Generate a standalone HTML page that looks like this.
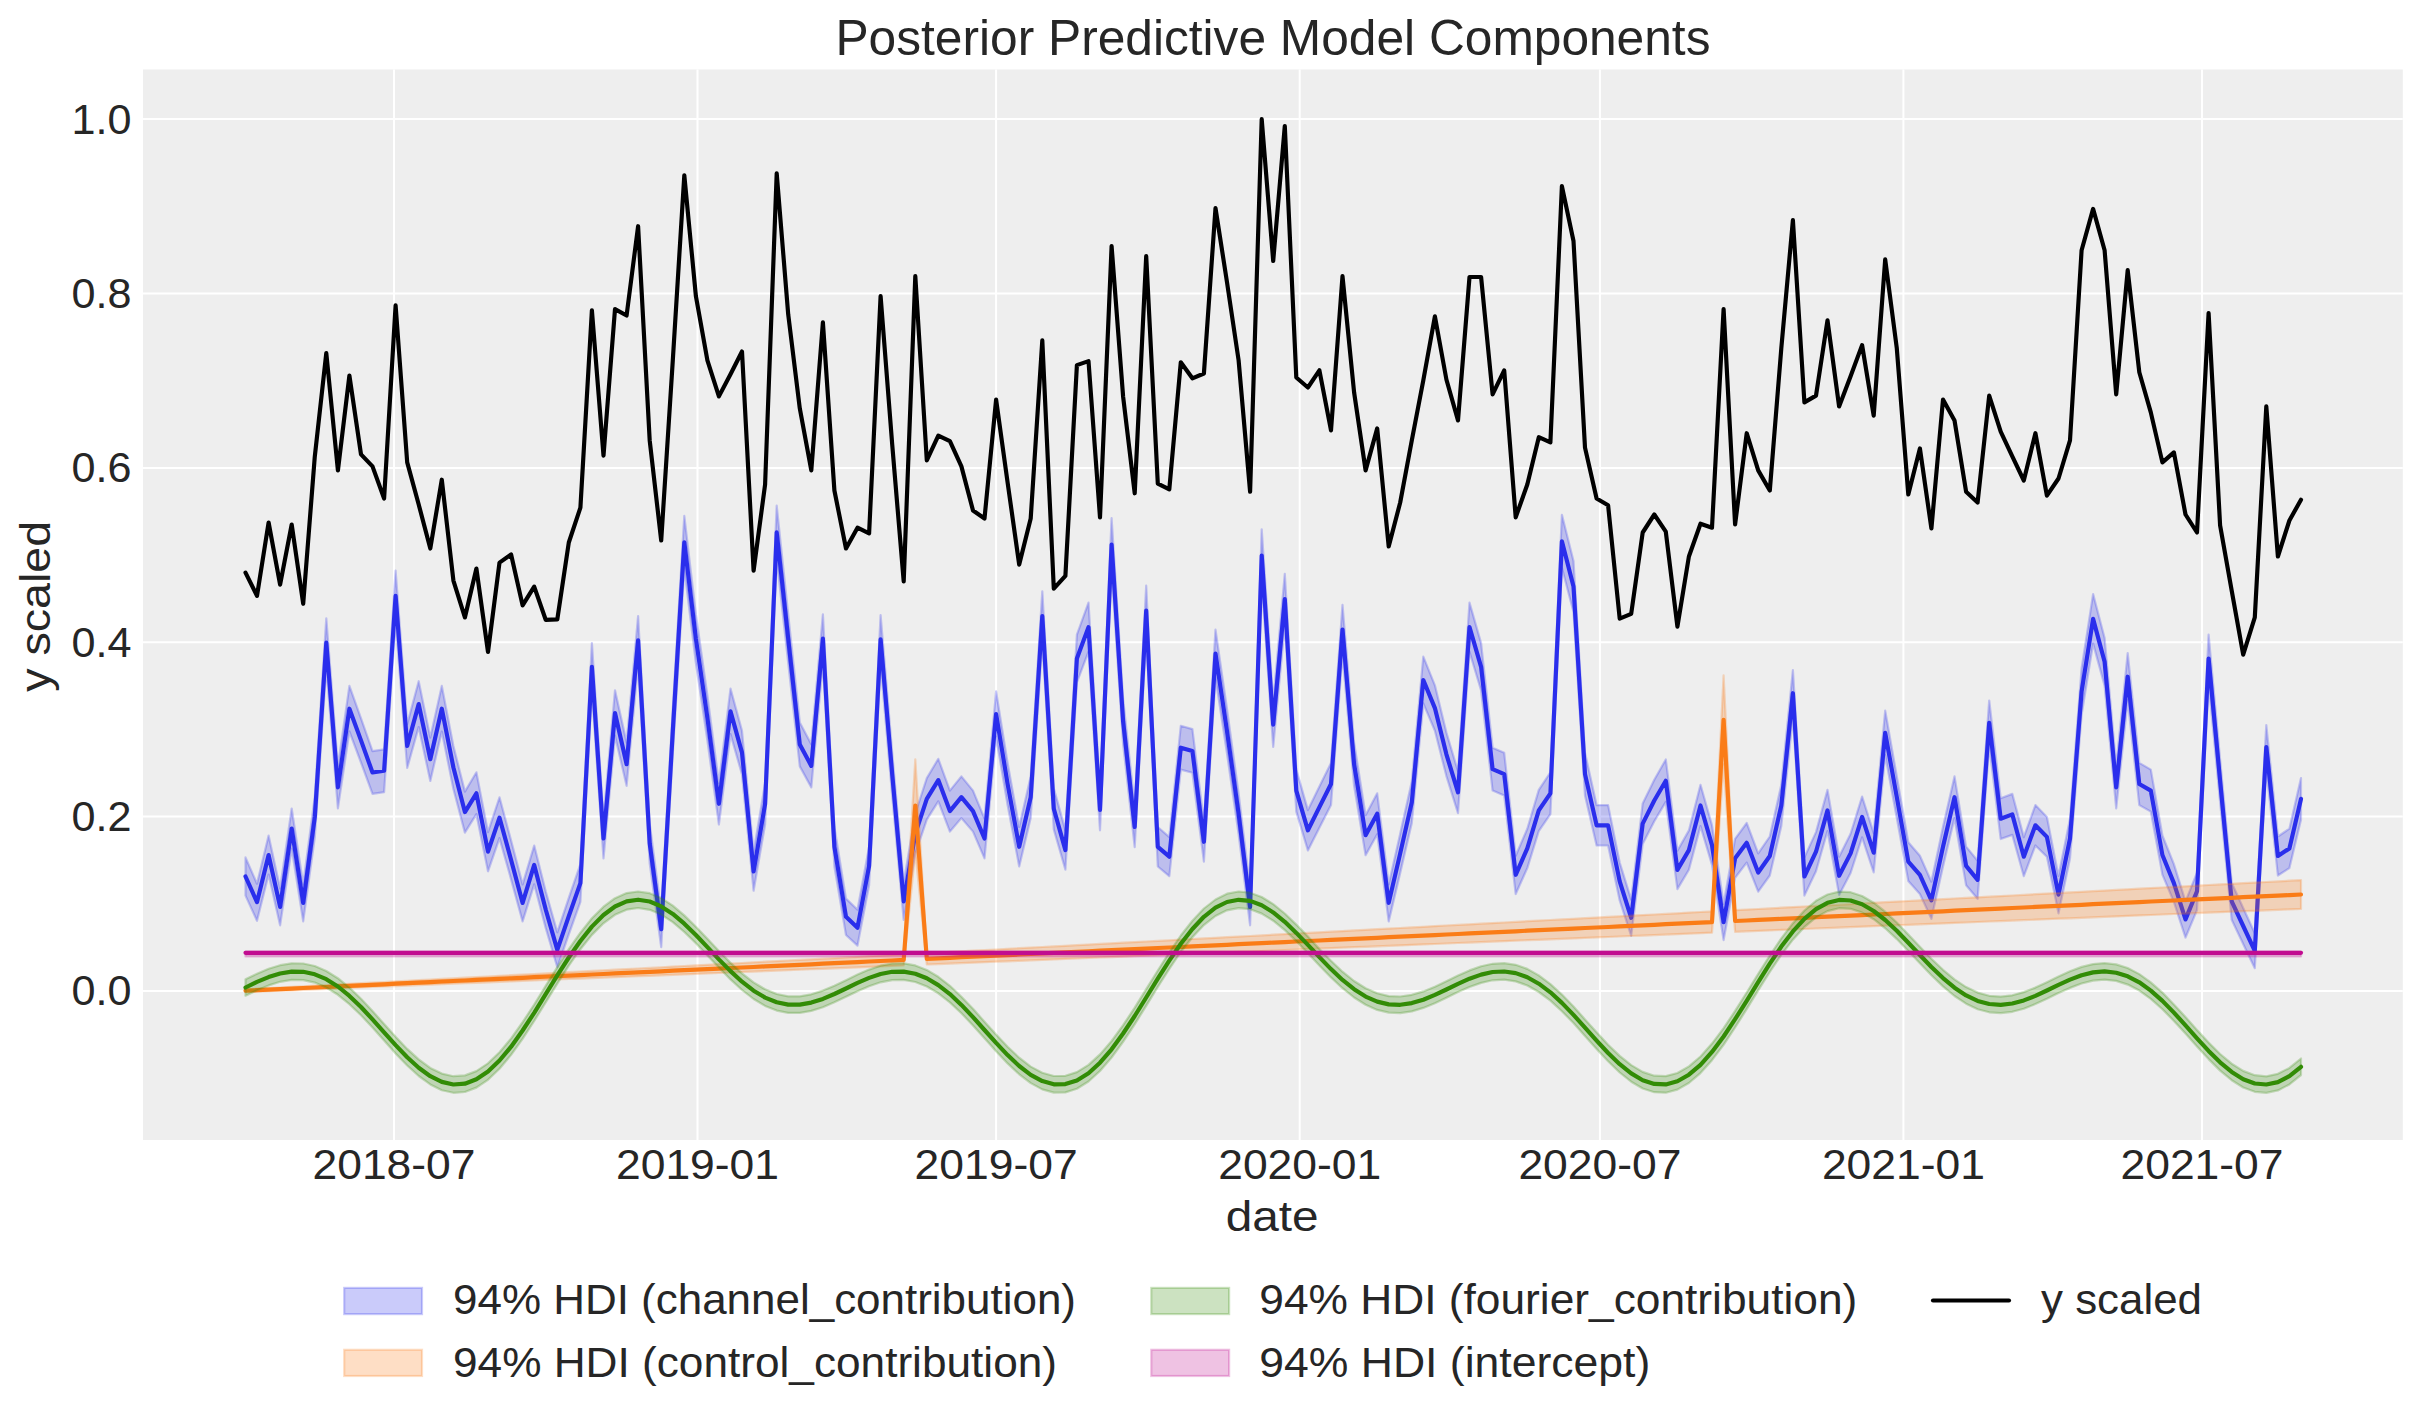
<!DOCTYPE html><html><head><meta charset="utf-8"><style>html,body{margin:0;padding:0;background:#fff;overflow:hidden}svg{display:block}</style></head><body>
<svg width="2423" height="1423" viewBox="0 0 2423 1423" style="font-family:&quot;Liberation Sans&quot;, sans-serif" fill="#262626">
<rect width="2423" height="1423" fill="#fff"/>
<rect x="143.0" y="69.5" width="2259.8" height="1070.5" fill="#eeeeee"/>
<defs><clipPath id="c"><rect x="143.0" y="69.5" width="2259.8" height="1070.5"/></clipPath></defs>
<line x1="394.0" y1="69.5" x2="394.0" y2="1140.0" stroke="#fff" stroke-width="2.0"/>
<line x1="697.5" y1="69.5" x2="697.5" y2="1140.0" stroke="#fff" stroke-width="2.0"/>
<line x1="996.1" y1="69.5" x2="996.1" y2="1140.0" stroke="#fff" stroke-width="2.0"/>
<line x1="1299.7" y1="69.5" x2="1299.7" y2="1140.0" stroke="#fff" stroke-width="2.0"/>
<line x1="1599.9" y1="69.5" x2="1599.9" y2="1140.0" stroke="#fff" stroke-width="2.0"/>
<line x1="1903.4" y1="69.5" x2="1903.4" y2="1140.0" stroke="#fff" stroke-width="2.0"/>
<line x1="2202.0" y1="69.5" x2="2202.0" y2="1140.0" stroke="#fff" stroke-width="2.0"/>
<line x1="143.0" y1="991.0" x2="2402.8" y2="991.0" stroke="#fff" stroke-width="2.0"/>
<line x1="143.0" y1="816.6" x2="2402.8" y2="816.6" stroke="#fff" stroke-width="2.0"/>
<line x1="143.0" y1="642.2" x2="2402.8" y2="642.2" stroke="#fff" stroke-width="2.0"/>
<line x1="143.0" y1="467.9" x2="2402.8" y2="467.9" stroke="#fff" stroke-width="2.0"/>
<line x1="143.0" y1="293.5" x2="2402.8" y2="293.5" stroke="#fff" stroke-width="2.0"/>
<line x1="143.0" y1="119.1" x2="2402.8" y2="119.1" stroke="#fff" stroke-width="2.0"/>
<g clip-path="url(#c)" stroke-linejoin="round" stroke-linecap="round" fill="none">
<polygon points="245.5,857.4 257.0,883.7 268.6,835.5 280.1,888.5 291.7,808.5 303.2,884.4 314.8,796.6 326.3,618.4 337.9,766.3 349.4,685.9 361.0,718.3 372.5,751.1 384.1,749.4 395.6,570.5 407.2,724.1 418.7,681.2 430.3,737.6 441.8,685.9 453.4,746.0 464.9,791.6 476.4,772.3 488.0,832.1 499.5,797.3 511.1,840.5 522.6,884.4 534.2,845.6 545.7,891.2 557.3,932.3 568.8,897.9 580.4,864.2 591.9,643.1 603.5,818.6 615.0,690.3 626.6,742.6 638.1,616.1 649.7,823.6 661.2,911.4 672.8,708.9 684.3,515.8 695.9,614.4 707.4,695.4 718.9,783.1 730.5,688.6 742.0,730.8 753.6,852.3 765.1,783.1 776.7,505.7 788.2,614.4 799.8,722.4 811.3,744.3 822.9,614.4 834.4,827.0 846.0,898.6 857.5,909.7 869.1,846.6 880.6,615.1 892.2,752.8 903.7,882.7 915.3,813.5 926.8,778.1 938.3,758.8 949.9,790.6 961.4,776.4 973.0,790.6 984.5,818.6 996.1,691.3 1007.6,762.9 1019.2,827.0 1030.7,776.4 1042.3,591.4 1053.8,788.2 1065.4,830.4 1076.9,634.6 1088.5,602.6 1100.0,789.2 1111.6,518.2 1123.1,698.8 1134.7,806.8 1146.2,585.7 1157.8,827.0 1169.3,837.1 1180.8,725.8 1192.4,729.1 1203.9,822.0 1215.5,629.6 1227.0,708.9 1238.6,793.3 1250.1,888.5 1261.7,529.3 1273.2,702.1 1284.8,573.9 1296.3,769.6 1307.9,810.1 1319.4,786.5 1331.0,762.9 1342.5,604.9 1354.1,742.6 1365.6,815.2 1377.2,793.3 1388.7,884.4 1400.2,833.8 1411.8,781.5 1423.3,656.6 1434.9,685.3 1446.4,732.5 1458.0,771.3 1469.5,602.6 1481.1,643.1 1492.6,747.7 1504.2,752.8 1515.7,855.7 1527.3,828.7 1538.8,789.9 1550.4,772.3 1561.9,514.8 1573.5,561.1 1585.0,752.8 1596.6,805.1 1608.1,805.1 1619.7,862.5 1631.2,899.6 1642.7,803.4 1654.3,779.8 1665.8,759.5 1677.4,850.7 1688.9,830.4 1700.5,784.8 1712.0,825.3 1723.6,904.0 1735.1,838.8 1746.7,823.0 1758.2,853.4 1769.8,836.5 1781.3,784.8 1792.9,670.1 1804.4,857.4 1816.0,832.1 1827.5,789.9 1839.1,856.7 1850.6,833.8 1862.1,796.6 1873.7,833.1 1885.2,710.6 1896.8,776.4 1908.3,842.2 1919.9,855.7 1931.4,881.7 1943.0,827.0 1954.5,776.4 1966.1,846.6 1977.6,860.8 1989.2,700.5 2000.7,798.3 2012.3,793.9 2023.8,837.1 2035.4,805.1 2046.9,816.9 2058.5,876.0 2070.0,818.6 2081.6,668.4 2093.1,594.1 2104.6,638.0 2116.2,766.3 2127.7,653.2 2139.3,762.9 2150.8,769.6 2162.4,835.5 2173.9,864.2 2185.5,901.3 2197.0,872.6 2208.6,634.6 2220.1,759.5 2231.7,882.7 2243.2,908.0 2254.8,933.3 2266.3,725.1 2277.9,836.5 2289.4,828.7 2301.0,778.1 2301.0,819.7 2289.4,868.1 2277.9,875.5 2266.3,769.0 2254.8,968.2 2243.2,944.0 2231.7,919.8 2220.1,801.9 2208.6,682.4 2197.0,910.1 2185.5,937.6 2173.9,902.0 2162.4,874.6 2150.8,811.6 2139.3,805.1 2127.7,700.2 2116.2,808.4 2104.6,685.6 2093.1,643.6 2081.6,714.7 2070.0,858.4 2058.5,913.3 2046.9,856.8 2035.4,845.5 2023.8,876.2 2012.3,834.9 2000.7,839.0 1989.2,745.4 1977.6,898.8 1966.1,885.2 1954.5,818.1 1943.0,866.5 1931.4,918.8 1919.9,894.0 1908.3,881.0 1896.8,818.1 1885.2,755.1 1873.7,872.3 1862.1,837.4 1850.6,873.0 1839.1,894.9 1827.5,831.0 1816.0,871.3 1804.4,895.6 1792.9,716.3 1781.3,826.1 1769.8,875.5 1758.2,891.7 1746.7,862.6 1735.1,877.8 1723.6,940.1 1712.0,864.9 1700.5,826.1 1688.9,869.7 1677.4,889.1 1665.8,801.9 1654.3,821.3 1642.7,843.9 1631.2,935.9 1619.7,900.4 1608.1,845.5 1596.6,845.5 1585.0,795.4 1573.5,612.0 1561.9,567.7 1550.4,814.2 1538.8,831.0 1527.3,868.1 1515.7,894.0 1504.2,795.4 1492.6,790.6 1481.1,690.5 1469.5,651.7 1458.0,813.2 1446.4,776.1 1434.9,730.8 1423.3,703.4 1411.8,822.9 1400.2,873.0 1388.7,921.4 1377.2,834.2 1365.6,855.2 1354.1,785.8 1342.5,654.0 1331.0,805.1 1319.4,827.7 1307.9,850.4 1296.3,811.6 1284.8,624.3 1273.2,747.0 1261.7,581.6 1250.1,925.3 1238.6,834.2 1227.0,753.5 1215.5,677.6 1203.9,861.7 1192.4,772.8 1180.8,769.6 1169.3,876.2 1157.8,866.5 1146.2,635.6 1134.7,847.1 1123.1,743.8 1111.6,571.0 1100.0,830.3 1088.5,651.7 1076.9,682.4 1065.4,869.7 1053.8,829.4 1042.3,641.1 1030.7,818.1 1019.2,866.5 1007.6,805.1 996.1,736.7 984.5,858.4 973.0,831.6 961.4,818.1 949.9,831.6 938.3,801.3 926.8,819.7 915.3,853.6 903.7,919.8 892.2,795.4 880.6,663.7 869.1,885.2 857.5,945.6 846.0,935.0 834.4,866.5 822.9,663.0 811.3,787.4 799.8,766.4 788.2,663.0 776.7,559.0 765.1,824.5 753.6,890.7 742.0,774.5 730.5,734.1 718.9,824.5 707.4,740.5 695.9,663.0 684.3,568.7 672.8,753.5 661.2,947.2 649.7,863.3 638.1,664.6 626.6,785.8 615.0,735.7 603.5,858.4 591.9,690.5 580.4,902.0 568.8,934.3 557.3,967.3 545.7,927.9 534.2,884.3 522.6,921.4 511.1,879.4 499.5,838.1 488.0,871.3 476.4,814.2 464.9,832.6 453.4,789.0 441.8,731.5 430.3,780.9 418.7,727.0 407.2,768.0 395.6,621.0 384.1,792.2 372.5,793.8 361.0,762.5 349.4,731.5 337.9,808.4 326.3,666.9 314.8,837.4 303.2,921.4 291.7,848.7 280.1,925.3 268.6,874.6 257.0,920.8 245.5,895.6" fill="#2a2eec" fill-opacity="0.25" stroke="#2a2eec" stroke-opacity="0.25" stroke-width="2.2"/>
<polyline points="245.5,876.5 257.0,902.2 268.6,855.0 280.1,906.9 291.7,828.6 303.2,902.9 314.8,817.0 326.3,642.7 337.9,787.3 349.4,708.7 361.0,740.4 372.5,772.5 384.1,770.8 395.6,595.8 407.2,746.0 418.7,704.1 430.3,759.2 441.8,708.7 453.4,767.5 464.9,812.1 476.4,793.3 488.0,851.7 499.5,817.7 511.1,860.0 522.6,902.9 534.2,864.9 545.7,909.5 557.3,949.8 568.8,916.1 580.4,883.1 591.9,666.8 603.5,838.5 615.0,713.0 626.6,764.2 638.1,640.4 649.7,843.5 661.2,929.3 672.8,731.2 684.3,542.3 695.9,638.7 707.4,718.0 718.9,803.8 730.5,711.4 742.0,752.6 753.6,871.5 765.1,803.8 776.7,532.4 788.2,638.7 799.8,744.4 811.3,765.9 822.9,638.7 834.4,846.8 846.0,916.8 857.5,927.7 869.1,865.9 880.6,639.4 892.2,774.1 903.7,901.3 915.3,833.6 926.8,798.9 938.3,780.1 949.9,811.1 961.4,797.2 973.0,811.1 984.5,838.5 996.1,714.0 1007.6,784.0 1019.2,846.8 1030.7,797.2 1042.3,616.2 1053.8,808.8 1065.4,850.1 1076.9,658.5 1088.5,627.1 1100.0,809.8 1111.6,544.6 1123.1,721.3 1134.7,826.9 1146.2,610.6 1157.8,846.8 1169.3,856.7 1180.8,747.7 1192.4,751.0 1203.9,841.8 1215.5,653.6 1227.0,731.2 1238.6,813.7 1250.1,906.9 1261.7,555.5 1273.2,724.6 1284.8,599.1 1296.3,790.6 1307.9,830.3 1319.4,807.1 1331.0,784.0 1342.5,629.5 1354.1,764.2 1365.6,835.2 1377.2,813.7 1388.7,902.9 1400.2,853.4 1411.8,802.2 1423.3,680.0 1434.9,708.1 1446.4,754.3 1458.0,792.3 1469.5,627.1 1481.1,666.8 1492.6,769.2 1504.2,774.1 1515.7,874.8 1527.3,848.4 1538.8,810.4 1550.4,793.3 1561.9,541.3 1573.5,586.5 1585.0,774.1 1596.6,825.3 1608.1,825.3 1619.7,881.4 1631.2,917.8 1642.7,823.6 1654.3,800.5 1665.8,780.7 1677.4,869.9 1688.9,850.1 1700.5,805.5 1712.0,845.1 1723.6,922.1 1735.1,858.3 1746.7,842.8 1758.2,872.5 1769.8,856.0 1781.3,805.5 1792.9,693.2 1804.4,876.5 1816.0,851.7 1827.5,810.4 1839.1,875.8 1850.6,853.4 1862.1,817.0 1873.7,852.7 1885.2,732.8 1896.8,797.2 1908.3,861.6 1919.9,874.8 1931.4,900.3 1943.0,846.8 1954.5,797.2 1966.1,865.9 1977.6,879.8 1989.2,722.9 2000.7,818.7 2012.3,814.4 2023.8,856.7 2035.4,825.3 2046.9,836.9 2058.5,894.6 2070.0,838.5 2081.6,691.5 2093.1,618.9 2104.6,661.8 2116.2,787.3 2127.7,676.7 2139.3,784.0 2150.8,790.6 2162.4,855.0 2173.9,883.1 2185.5,919.4 2197.0,891.3 2208.6,658.5 2220.1,780.7 2231.7,901.3 2243.2,926.0 2254.8,950.8 2266.3,747.0 2277.9,856.0 2289.4,848.4 2301.0,798.9" stroke="#2a2eec" stroke-width="4.17"/>
<polygon points="245.5,989.3 257.0,988.7 268.6,988.1 280.1,987.5 291.7,986.9 303.2,986.3 314.8,985.7 326.3,985.0 337.9,984.4 349.4,983.8 361.0,983.2 372.5,982.6 384.1,982.0 395.6,981.4 407.2,980.8 418.7,980.1 430.3,979.5 441.8,978.9 453.4,978.3 464.9,977.7 476.4,977.1 488.0,976.5 499.5,975.8 511.1,975.2 522.6,974.6 534.2,974.0 545.7,973.4 557.3,972.8 568.8,972.2 580.4,971.6 591.9,970.9 603.5,970.3 615.0,969.7 626.6,969.1 638.1,968.5 649.7,967.9 661.2,967.3 672.8,966.6 684.3,966.0 695.9,965.4 707.4,964.8 718.9,964.2 730.5,963.6 742.0,963.0 753.6,962.3 765.1,961.7 776.7,961.1 788.2,960.5 799.8,959.9 811.3,959.3 822.9,958.7 834.4,958.1 846.0,957.4 857.5,956.8 869.1,956.2 880.6,955.6 892.2,955.0 903.7,954.4 915.3,759.3 926.8,953.1 938.3,952.5 949.9,951.9 961.4,951.3 973.0,950.7 984.5,950.1 996.1,949.5 1007.6,948.8 1019.2,948.2 1030.7,947.6 1042.3,947.0 1053.8,946.4 1065.4,945.8 1076.9,945.2 1088.5,944.6 1100.0,943.9 1111.6,943.3 1123.1,942.7 1134.7,942.1 1146.2,941.5 1157.8,940.9 1169.3,940.3 1180.8,939.6 1192.4,939.0 1203.9,938.4 1215.5,937.8 1227.0,937.2 1238.6,936.6 1250.1,936.0 1261.7,935.4 1273.2,934.7 1284.8,934.1 1296.3,933.5 1307.9,932.9 1319.4,932.3 1331.0,931.7 1342.5,931.1 1354.1,930.4 1365.6,929.8 1377.2,929.2 1388.7,928.6 1400.2,928.0 1411.8,927.4 1423.3,926.8 1434.9,926.1 1446.4,925.5 1458.0,924.9 1469.5,924.3 1481.1,923.7 1492.6,923.1 1504.2,922.5 1515.7,921.9 1527.3,921.2 1538.8,920.6 1550.4,920.0 1561.9,919.4 1573.5,918.8 1585.0,918.2 1596.6,917.6 1608.1,916.9 1619.7,916.3 1631.2,915.7 1642.7,915.1 1654.3,914.5 1665.8,913.9 1677.4,913.3 1688.9,912.6 1700.5,912.0 1712.0,911.4 1723.6,675.4 1735.1,910.2 1746.7,909.6 1758.2,909.0 1769.8,908.4 1781.3,907.7 1792.9,907.1 1804.4,906.5 1816.0,905.9 1827.5,905.3 1839.1,904.7 1850.6,904.1 1862.1,903.4 1873.7,902.8 1885.2,902.2 1896.8,901.6 1908.3,901.0 1919.9,900.4 1931.4,899.8 1943.0,899.2 1954.5,898.5 1966.1,897.9 1977.6,897.3 1989.2,896.7 2000.7,896.1 2012.3,895.5 2023.8,894.9 2035.4,894.2 2046.9,893.6 2058.5,893.0 2070.0,892.4 2081.6,891.8 2093.1,891.2 2104.6,890.6 2116.2,889.9 2127.7,889.3 2139.3,888.7 2150.8,888.1 2162.4,887.5 2173.9,886.9 2185.5,886.3 2197.0,885.7 2208.6,885.0 2220.1,884.4 2231.7,883.8 2243.2,883.2 2254.8,882.6 2266.3,882.0 2277.9,881.4 2289.4,880.7 2301.0,880.1 2301.0,908.9 2289.4,909.4 2277.9,909.8 2266.3,910.3 2254.8,910.8 2243.2,911.2 2231.7,911.7 2220.1,912.2 2208.6,912.6 2197.0,913.1 2185.5,913.6 2173.9,914.0 2162.4,914.5 2150.8,915.0 2139.3,915.4 2127.7,915.9 2116.2,916.4 2104.6,916.8 2093.1,917.3 2081.6,917.8 2070.0,918.3 2058.5,918.7 2046.9,919.2 2035.4,919.7 2023.8,920.1 2012.3,920.6 2000.7,921.1 1989.2,921.5 1977.6,922.0 1966.1,922.5 1954.5,922.9 1943.0,923.4 1931.4,923.9 1919.9,924.3 1908.3,924.8 1896.8,925.3 1885.2,925.7 1873.7,926.2 1862.1,926.7 1850.6,927.1 1839.1,927.6 1827.5,928.1 1816.0,928.5 1804.4,929.0 1792.9,929.5 1781.3,929.9 1769.8,930.4 1758.2,930.9 1746.7,931.3 1735.1,931.8 1723.6,764.3 1712.0,932.7 1700.5,933.2 1688.9,933.7 1677.4,934.2 1665.8,934.6 1654.3,935.1 1642.7,935.6 1631.2,936.0 1619.7,936.5 1608.1,937.0 1596.6,937.4 1585.0,937.9 1573.5,938.4 1561.9,938.8 1550.4,939.3 1538.8,939.8 1527.3,940.2 1515.7,940.7 1504.2,941.2 1492.6,941.6 1481.1,942.1 1469.5,942.6 1458.0,943.0 1446.4,943.5 1434.9,944.0 1423.3,944.4 1411.8,944.9 1400.2,945.4 1388.7,945.8 1377.2,946.3 1365.6,946.8 1354.1,947.2 1342.5,947.7 1331.0,948.2 1319.4,948.6 1307.9,949.1 1296.3,949.6 1284.8,950.0 1273.2,950.5 1261.7,951.0 1250.1,951.5 1238.6,951.9 1227.0,952.4 1215.5,952.9 1203.9,953.3 1192.4,953.8 1180.8,954.3 1169.3,954.7 1157.8,955.2 1146.2,955.7 1134.7,956.1 1123.1,956.6 1111.6,957.1 1100.0,957.5 1088.5,958.0 1076.9,958.5 1065.4,958.9 1053.8,959.4 1042.3,959.9 1030.7,960.3 1019.2,960.8 1007.6,961.3 996.1,961.7 984.5,962.2 973.0,962.7 961.4,963.1 949.9,963.6 938.3,964.1 926.8,964.5 915.3,851.8 903.7,965.5 892.2,965.9 880.6,966.4 869.1,966.9 857.5,967.4 846.0,967.8 834.4,968.3 822.9,968.8 811.3,969.2 799.8,969.7 788.2,970.2 776.7,970.6 765.1,971.1 753.6,971.6 742.0,972.0 730.5,972.5 718.9,973.0 707.4,973.4 695.9,973.9 684.3,974.4 672.8,974.8 661.2,975.3 649.7,975.8 638.1,976.2 626.6,976.7 615.0,977.2 603.5,977.6 591.9,978.1 580.4,978.6 568.8,979.0 557.3,979.5 545.7,980.0 534.2,980.4 522.6,980.9 511.1,981.4 499.5,981.8 488.0,982.3 476.4,982.8 464.9,983.2 453.4,983.7 441.8,984.2 430.3,984.7 418.7,985.1 407.2,985.6 395.6,986.1 384.1,986.5 372.5,987.0 361.0,987.5 349.4,987.9 337.9,988.4 326.3,988.9 314.8,989.3 303.2,989.8 291.7,990.3 280.1,990.7 268.6,991.2 257.0,991.7 245.5,992.1" fill="#fa7c17" fill-opacity="0.25" stroke="#fa7c17" stroke-opacity="0.25" stroke-width="2.2"/>
<polyline points="245.5,990.7 257.0,990.2 268.6,989.7 280.1,989.1 291.7,988.6 303.2,988.0 314.8,987.5 326.3,987.0 337.9,986.4 349.4,985.9 361.0,985.3 372.5,984.8 384.1,984.3 395.6,983.7 407.2,983.2 418.7,982.6 430.3,982.1 441.8,981.5 453.4,981.0 464.9,980.5 476.4,979.9 488.0,979.4 499.5,978.8 511.1,978.3 522.6,977.8 534.2,977.2 545.7,976.7 557.3,976.1 568.8,975.6 580.4,975.1 591.9,974.5 603.5,974.0 615.0,973.4 626.6,972.9 638.1,972.4 649.7,971.8 661.2,971.3 672.8,970.7 684.3,970.2 695.9,969.7 707.4,969.1 718.9,968.6 730.5,968.0 742.0,967.5 753.6,967.0 765.1,966.4 776.7,965.9 788.2,965.3 799.8,964.8 811.3,964.3 822.9,963.7 834.4,963.2 846.0,962.6 857.5,962.1 869.1,961.5 880.6,961.0 892.2,960.5 903.7,959.9 915.3,805.5 926.8,958.8 938.3,958.3 949.9,957.8 961.4,957.2 973.0,956.7 984.5,956.1 996.1,955.6 1007.6,955.1 1019.2,954.5 1030.7,954.0 1042.3,953.4 1053.8,952.9 1065.4,952.4 1076.9,951.8 1088.5,951.3 1100.0,950.7 1111.6,950.2 1123.1,949.7 1134.7,949.1 1146.2,948.6 1157.8,948.0 1169.3,947.5 1180.8,947.0 1192.4,946.4 1203.9,945.9 1215.5,945.3 1227.0,944.8 1238.6,944.2 1250.1,943.7 1261.7,943.2 1273.2,942.6 1284.8,942.1 1296.3,941.5 1307.9,941.0 1319.4,940.5 1331.0,939.9 1342.5,939.4 1354.1,938.8 1365.6,938.3 1377.2,937.8 1388.7,937.2 1400.2,936.7 1411.8,936.1 1423.3,935.6 1434.9,935.1 1446.4,934.5 1458.0,934.0 1469.5,933.4 1481.1,932.9 1492.6,932.4 1504.2,931.8 1515.7,931.3 1527.3,930.7 1538.8,930.2 1550.4,929.7 1561.9,929.1 1573.5,928.6 1585.0,928.0 1596.6,927.5 1608.1,927.0 1619.7,926.4 1631.2,925.9 1642.7,925.3 1654.3,924.8 1665.8,924.2 1677.4,923.7 1688.9,923.2 1700.5,922.6 1712.0,922.1 1723.6,719.8 1735.1,921.0 1746.7,920.5 1758.2,919.9 1769.8,919.4 1781.3,918.8 1792.9,918.3 1804.4,917.8 1816.0,917.2 1827.5,916.7 1839.1,916.1 1850.6,915.6 1862.1,915.1 1873.7,914.5 1885.2,914.0 1896.8,913.4 1908.3,912.9 1919.9,912.4 1931.4,911.8 1943.0,911.3 1954.5,910.7 1966.1,910.2 1977.6,909.7 1989.2,909.1 2000.7,908.6 2012.3,908.0 2023.8,907.5 2035.4,906.9 2046.9,906.4 2058.5,905.9 2070.0,905.3 2081.6,904.8 2093.1,904.2 2104.6,903.7 2116.2,903.2 2127.7,902.6 2139.3,902.1 2150.8,901.5 2162.4,901.0 2173.9,900.5 2185.5,899.9 2197.0,899.4 2208.6,898.8 2220.1,898.3 2231.7,897.8 2243.2,897.2 2254.8,896.7 2266.3,896.1 2277.9,895.6 2289.4,895.1 2301.0,894.5" stroke="#fa7c17" stroke-width="4.17"/>
<polygon points="245.5,979.2 257.0,973.7 268.6,968.8 280.1,965.2 291.7,963.3 303.2,963.5 314.8,966.0 326.3,971.0 337.9,978.2 349.4,987.6 361.0,998.8 372.5,1011.1 384.1,1024.0 395.6,1036.8 407.2,1048.9 418.7,1059.4 430.3,1067.9 441.8,1073.6 453.4,1076.2 464.9,1075.4 476.4,1071.1 488.0,1063.3 499.5,1052.2 511.1,1038.4 522.6,1022.2 534.2,1004.5 545.7,985.8 557.3,967.1 568.8,949.2 580.4,932.7 591.9,918.3 603.5,906.7 615.0,898.2 626.6,893.1 638.1,891.5 649.7,893.2 661.2,898.1 672.8,905.7 684.3,915.4 695.9,926.7 707.4,938.8 718.9,951.1 730.5,962.8 742.0,973.4 753.6,982.4 765.1,989.3 776.7,994.0 788.2,996.3 799.8,996.3 811.3,994.3 822.9,990.6 834.4,985.7 846.0,980.2 857.5,974.6 869.1,969.6 880.6,965.7 892.2,963.5 903.7,963.3 915.3,965.4 926.8,969.9 938.3,976.8 949.9,985.8 961.4,996.7 973.0,1008.8 984.5,1021.7 996.1,1034.6 1007.6,1046.8 1019.2,1057.7 1030.7,1066.6 1042.3,1072.8 1053.8,1076.0 1065.4,1075.8 1076.9,1072.1 1088.5,1064.9 1100.0,1054.4 1111.6,1041.0 1123.1,1025.2 1134.7,1007.7 1146.2,989.2 1157.8,970.5 1169.3,952.3 1180.8,935.5 1192.4,920.7 1203.9,908.5 1215.5,899.5 1227.0,893.7 1238.6,891.5 1250.1,892.7 1261.7,897.0 1273.2,904.1 1284.8,913.5 1296.3,924.6 1307.9,936.6 1319.4,948.9 1331.0,960.8 1342.5,971.7 1354.1,981.0 1365.6,988.3 1377.2,993.3 1388.7,996.1 1400.2,996.5 1411.8,994.8 1423.3,991.4 1434.9,986.7 1446.4,981.2 1458.0,975.6 1469.5,970.4 1481.1,966.3 1492.6,963.8 1504.2,963.2 1515.7,964.8 1527.3,968.9 1538.8,975.4 1550.4,984.1 1561.9,994.6 1573.5,1006.6 1585.0,1019.4 1596.6,1032.3 1608.1,1044.7 1619.7,1055.9 1631.2,1065.1 1642.7,1071.9 1654.3,1075.7 1665.8,1076.1 1677.4,1073.0 1688.9,1066.4 1700.5,1056.5 1712.0,1043.6 1723.6,1028.2 1735.1,1010.9 1746.7,992.5 1758.2,973.8 1769.8,955.5 1781.3,938.3 1792.9,923.2 1804.4,910.5 1816.0,900.8 1827.5,894.5 1839.1,891.6 1850.6,892.2 1862.1,896.0 1873.7,902.7 1885.2,911.7 1896.8,922.5 1908.3,934.4 1919.9,946.7 1931.4,958.7 1943.0,969.8 1954.5,979.4 1966.1,987.1 1977.6,992.6 1989.2,995.8 2000.7,996.6 2012.3,995.3 2023.8,992.1 2035.4,987.6 2046.9,982.2 2058.5,976.6 2070.0,971.3 2081.6,966.9 2093.1,964.1 2104.6,963.1 2116.2,964.4 2127.7,968.0 2139.3,974.1 2150.8,982.4 2162.4,992.6 2173.9,1004.4 2185.5,1017.0 2197.0,1030.0 2208.6,1042.6 2220.1,1054.0 2231.7,1063.7 2243.2,1070.9 2254.8,1075.2 2266.3,1076.3 2277.9,1073.8 2289.4,1067.9 2301.0,1058.5 2301.0,1075.1 2289.4,1084.4 2277.9,1090.4 2266.3,1092.8 2254.8,1091.8 2243.2,1087.5 2231.7,1080.2 2220.1,1070.6 2208.6,1059.1 2197.0,1046.6 2185.5,1033.6 2173.9,1020.9 2162.4,1009.2 2150.8,998.9 2139.3,990.6 2127.7,984.6 2116.2,980.9 2104.6,979.7 2093.1,980.6 2081.6,983.5 2070.0,987.9 2058.5,993.1 2046.9,998.8 2035.4,1004.1 2023.8,1008.7 2012.3,1011.8 2000.7,1013.1 1989.2,1012.3 1977.6,1009.2 1966.1,1003.7 1954.5,996.0 1943.0,986.4 1931.4,975.3 1919.9,963.3 1908.3,951.0 1896.8,939.1 1885.2,928.3 1873.7,919.2 1862.1,912.6 1850.6,908.8 1839.1,908.2 1827.5,911.1 1816.0,917.4 1804.4,927.1 1792.9,939.7 1781.3,954.9 1769.8,972.0 1758.2,990.3 1746.7,1009.1 1735.1,1027.5 1723.6,1044.8 1712.0,1060.2 1700.5,1073.1 1688.9,1083.0 1677.4,1089.6 1665.8,1092.7 1654.3,1092.2 1642.7,1088.5 1631.2,1081.7 1619.7,1072.5 1608.1,1061.3 1596.6,1048.9 1585.0,1035.9 1573.5,1023.1 1561.9,1011.2 1550.4,1000.6 1538.8,992.0 1527.3,985.5 1515.7,981.4 1504.2,979.7 1492.6,980.3 1481.1,982.9 1469.5,987.0 1458.0,992.1 1446.4,997.8 1434.9,1003.2 1423.3,1007.9 1411.8,1011.4 1400.2,1013.1 1388.7,1012.6 1377.2,1009.9 1365.6,1004.8 1354.1,997.5 1342.5,988.2 1331.0,977.4 1319.4,965.5 1307.9,953.2 1296.3,941.1 1284.8,930.1 1273.2,920.7 1261.7,913.6 1250.1,909.2 1238.6,908.1 1227.0,910.3 1215.5,916.0 1203.9,925.1 1192.4,937.3 1180.8,952.0 1169.3,968.9 1157.8,987.0 1146.2,1005.8 1134.7,1024.3 1123.1,1041.8 1111.6,1057.6 1100.0,1071.0 1088.5,1081.5 1076.9,1088.7 1065.4,1092.4 1053.8,1092.6 1042.3,1089.4 1030.7,1083.1 1019.2,1074.3 1007.6,1063.4 996.1,1051.2 984.5,1038.2 973.0,1025.4 961.4,1013.2 949.9,1002.4 938.3,993.3 926.8,986.5 915.3,982.0 903.7,979.9 892.2,980.1 880.6,982.3 869.1,986.2 857.5,991.2 846.0,996.8 834.4,1002.3 822.9,1007.2 811.3,1010.9 799.8,1012.9 788.2,1012.9 776.7,1010.6 765.1,1005.9 753.6,999.0 742.0,990.0 730.5,979.4 718.9,967.6 707.4,955.4 695.9,943.2 684.3,932.0 672.8,922.2 661.2,914.6 649.7,909.8 638.1,908.0 626.6,909.7 615.0,914.8 603.5,923.3 591.9,934.9 580.4,949.2 568.8,965.7 557.3,983.7 545.7,1002.4 534.2,1021.0 522.6,1038.8 511.1,1054.9 499.5,1068.8 488.0,1079.8 476.4,1087.6 464.9,1092.0 453.4,1092.8 441.8,1090.2 430.3,1084.4 418.7,1076.0 407.2,1065.5 395.6,1053.4 384.1,1040.6 372.5,1027.6 361.0,1015.3 349.4,1004.2 337.9,994.8 326.3,987.5 314.8,982.6 303.2,980.1 291.7,979.9 280.1,981.8 268.6,985.4 257.0,990.2 245.5,995.7" fill="#328c06" fill-opacity="0.25" stroke="#328c06" stroke-opacity="0.25" stroke-width="2.2"/>
<polyline points="245.5,987.5 257.0,981.9 268.6,977.1 280.1,973.5 291.7,971.6 303.2,971.8 314.8,974.3 326.3,979.2 337.9,986.5 349.4,995.9 361.0,1007.0 372.5,1019.4 384.1,1032.3 395.6,1045.1 407.2,1057.2 418.7,1067.7 430.3,1076.2 441.8,1081.9 453.4,1084.5 464.9,1083.7 476.4,1079.3 488.0,1071.5 499.5,1060.5 511.1,1046.7 522.6,1030.5 534.2,1012.8 545.7,994.1 557.3,975.4 568.8,957.5 580.4,941.0 591.9,926.6 603.5,915.0 615.0,906.5 626.6,901.4 638.1,899.7 649.7,901.5 661.2,906.4 672.8,913.9 684.3,923.7 695.9,935.0 707.4,947.1 718.9,959.4 730.5,971.1 742.0,981.7 753.6,990.7 765.1,997.6 776.7,1002.3 788.2,1004.6 799.8,1004.6 811.3,1002.6 822.9,998.9 834.4,994.0 846.0,988.5 857.5,982.9 869.1,977.9 880.6,974.0 892.2,971.8 903.7,971.6 915.3,973.7 926.8,978.2 938.3,985.1 949.9,994.1 961.4,1004.9 973.0,1017.1 984.5,1030.0 996.1,1042.9 1007.6,1055.1 1019.2,1066.0 1030.7,1074.8 1042.3,1081.1 1053.8,1084.3 1065.4,1084.1 1076.9,1080.4 1088.5,1073.2 1100.0,1062.7 1111.6,1049.3 1123.1,1033.5 1134.7,1016.0 1146.2,997.5 1157.8,978.7 1169.3,960.6 1180.8,943.8 1192.4,929.0 1203.9,916.8 1215.5,907.7 1227.0,902.0 1238.6,899.8 1250.1,900.9 1261.7,905.3 1273.2,912.4 1284.8,921.8 1296.3,932.9 1307.9,944.9 1319.4,957.2 1331.0,969.1 1342.5,979.9 1354.1,989.2 1365.6,996.6 1377.2,1001.6 1388.7,1004.4 1400.2,1004.8 1411.8,1003.1 1423.3,999.7 1434.9,994.9 1446.4,989.5 1458.0,983.9 1469.5,978.7 1481.1,974.6 1492.6,972.0 1504.2,971.5 1515.7,973.1 1527.3,977.2 1538.8,983.7 1550.4,992.3 1561.9,1002.9 1573.5,1014.9 1585.0,1027.6 1596.6,1040.6 1608.1,1053.0 1619.7,1064.2 1631.2,1073.4 1642.7,1080.2 1654.3,1083.9 1665.8,1084.4 1677.4,1081.3 1688.9,1074.7 1700.5,1064.8 1712.0,1051.9 1723.6,1036.5 1735.1,1019.2 1746.7,1000.8 1758.2,982.1 1769.8,963.7 1781.3,946.6 1792.9,931.4 1804.4,918.8 1816.0,909.1 1827.5,902.8 1839.1,899.9 1850.6,900.5 1862.1,904.3 1873.7,911.0 1885.2,920.0 1896.8,930.8 1908.3,942.7 1919.9,955.0 1931.4,967.0 1943.0,978.1 1954.5,987.7 1966.1,995.4 1977.6,1000.9 1989.2,1004.0 2000.7,1004.9 2012.3,1003.5 2023.8,1000.4 2035.4,995.9 2046.9,990.5 2058.5,984.8 2070.0,979.6 2081.6,975.2 2093.1,972.4 2104.6,971.4 2116.2,972.7 2127.7,976.3 2139.3,982.3 2150.8,990.6 2162.4,1000.9 2173.9,1012.6 2185.5,1025.3 2197.0,1038.3 2208.6,1050.9 2220.1,1062.3 2231.7,1071.9 2243.2,1079.2 2254.8,1083.5 2266.3,1084.5 2277.9,1082.1 2289.4,1076.1 2301.0,1066.8" stroke="#328c06" stroke-width="4.17"/>
<polygon points="245.5,951.5 2301.0,951.5 2301.0,956.5 245.5,956.5" fill="#c10c90" fill-opacity="0.25" stroke="#c10c90" stroke-opacity="0.25" stroke-width="2.2"/>
<polyline points="245.5,952.8 257.0,952.8 268.6,952.8 280.1,952.8 291.7,952.8 303.2,952.8 314.8,952.8 326.3,952.8 337.9,952.8 349.4,952.8 361.0,952.8 372.5,952.8 384.1,952.8 395.6,952.8 407.2,952.8 418.7,952.8 430.3,952.8 441.8,952.8 453.4,952.8 464.9,952.8 476.4,952.8 488.0,952.8 499.5,952.8 511.1,952.8 522.6,952.8 534.2,952.8 545.7,952.8 557.3,952.8 568.8,952.8 580.4,952.8 591.9,952.8 603.5,952.8 615.0,952.8 626.6,952.8 638.1,952.8 649.7,952.8 661.2,952.8 672.8,952.8 684.3,952.8 695.9,952.8 707.4,952.8 718.9,952.8 730.5,952.8 742.0,952.8 753.6,952.8 765.1,952.8 776.7,952.8 788.2,952.8 799.8,952.8 811.3,952.8 822.9,952.8 834.4,952.8 846.0,952.8 857.5,952.8 869.1,952.8 880.6,952.8 892.2,952.8 903.7,952.8 915.3,952.8 926.8,952.8 938.3,952.8 949.9,952.8 961.4,952.8 973.0,952.8 984.5,952.8 996.1,952.8 1007.6,952.8 1019.2,952.8 1030.7,952.8 1042.3,952.8 1053.8,952.8 1065.4,952.8 1076.9,952.8 1088.5,952.8 1100.0,952.8 1111.6,952.8 1123.1,952.8 1134.7,952.8 1146.2,952.8 1157.8,952.8 1169.3,952.8 1180.8,952.8 1192.4,952.8 1203.9,952.8 1215.5,952.8 1227.0,952.8 1238.6,952.8 1250.1,952.8 1261.7,952.8 1273.2,952.8 1284.8,952.8 1296.3,952.8 1307.9,952.8 1319.4,952.8 1331.0,952.8 1342.5,952.8 1354.1,952.8 1365.6,952.8 1377.2,952.8 1388.7,952.8 1400.2,952.8 1411.8,952.8 1423.3,952.8 1434.9,952.8 1446.4,952.8 1458.0,952.8 1469.5,952.8 1481.1,952.8 1492.6,952.8 1504.2,952.8 1515.7,952.8 1527.3,952.8 1538.8,952.8 1550.4,952.8 1561.9,952.8 1573.5,952.8 1585.0,952.8 1596.6,952.8 1608.1,952.8 1619.7,952.8 1631.2,952.8 1642.7,952.8 1654.3,952.8 1665.8,952.8 1677.4,952.8 1688.9,952.8 1700.5,952.8 1712.0,952.8 1723.6,952.8 1735.1,952.8 1746.7,952.8 1758.2,952.8 1769.8,952.8 1781.3,952.8 1792.9,952.8 1804.4,952.8 1816.0,952.8 1827.5,952.8 1839.1,952.8 1850.6,952.8 1862.1,952.8 1873.7,952.8 1885.2,952.8 1896.8,952.8 1908.3,952.8 1919.9,952.8 1931.4,952.8 1943.0,952.8 1954.5,952.8 1966.1,952.8 1977.6,952.8 1989.2,952.8 2000.7,952.8 2012.3,952.8 2023.8,952.8 2035.4,952.8 2046.9,952.8 2058.5,952.8 2070.0,952.8 2081.6,952.8 2093.1,952.8 2104.6,952.8 2116.2,952.8 2127.7,952.8 2139.3,952.8 2150.8,952.8 2162.4,952.8 2173.9,952.8 2185.5,952.8 2197.0,952.8 2208.6,952.8 2220.1,952.8 2231.7,952.8 2243.2,952.8 2254.8,952.8 2266.3,952.8 2277.9,952.8 2289.4,952.8 2301.0,952.8" stroke="#c10c90" stroke-width="4.17"/>
<polyline points="245.5,572.6 257.0,595.8 268.6,522.5 280.1,584.6 291.7,524.5 303.2,603.8 314.8,456.4 326.3,353.1 337.9,470.4 349.4,375.5 361.0,454.4 372.5,466.4 384.1,498.5 395.6,305.4 407.2,462.4 418.7,504.5 430.3,548.5 441.8,479.7 453.4,580.6 464.9,617.4 476.4,568.6 488.0,651.9 499.5,562.6 511.1,554.5 522.6,605.4 534.2,586.6 545.7,619.8 557.3,619.4 568.8,542.5 580.4,507.7 591.9,310.3 603.5,455.6 615.0,309.1 626.6,315.5 638.1,226.2 649.7,440.4 661.2,540.5 672.8,360.3 684.3,175.3 695.9,296.2 707.4,360.3 718.9,396.4 730.5,374.3 742.0,351.5 753.6,570.6 765.1,484.5 776.7,173.3 788.2,314.3 799.8,408.4 811.3,470.4 822.9,322.3 834.4,490.5 846.0,548.5 857.5,527.7 869.1,533.3 880.6,296.2 892.2,444.4 903.7,581.4 915.3,276.2 926.8,460.4 938.3,435.6 949.9,441.2 961.4,466.4 973.0,510.5 984.5,518.5 996.1,399.6 1007.6,482.5 1019.2,564.6 1030.7,518.5 1042.3,340.3 1053.8,588.6 1065.4,575.8 1076.9,365.1 1088.5,361.1 1100.0,517.3 1111.6,246.2 1123.1,396.4 1134.7,493.3 1146.2,256.2 1157.8,483.7 1169.3,489.3 1180.8,362.3 1192.4,378.3 1203.9,373.5 1215.5,208.1 1227.0,282.2 1238.6,360.3 1250.1,491.7 1261.7,119.2 1273.2,261.0 1284.8,126.0 1296.3,377.5 1307.9,387.5 1319.4,370.3 1331.0,430.4 1342.5,276.2 1354.1,392.4 1365.6,470.4 1377.2,428.4 1388.7,546.5 1400.2,502.5 1411.8,440.4 1423.3,380.3 1434.9,316.3 1446.4,379.5 1458.0,420.4 1469.5,277.0 1481.1,277.0 1492.6,394.4 1504.2,370.3 1515.7,517.3 1527.3,484.5 1538.8,437.2 1550.4,442.4 1561.9,186.1 1573.5,241.0 1585.0,447.6 1596.6,498.5 1608.1,505.3 1619.7,618.6 1631.2,613.8 1642.7,532.5 1654.3,514.5 1665.8,531.7 1677.4,626.6 1688.9,556.5 1700.5,523.7 1712.0,527.7 1723.6,309.1 1735.1,524.5 1746.7,433.2 1758.2,470.4 1769.8,490.5 1781.3,348.3 1792.9,220.1 1804.4,402.4 1816.0,395.6 1827.5,320.3 1839.1,406.4 1850.6,376.3 1862.1,345.1 1873.7,415.6 1885.2,259.4 1896.8,348.3 1908.3,494.5 1919.9,448.4 1931.4,528.5 1943.0,399.6 1954.5,420.4 1966.1,491.7 1977.6,502.5 1989.2,395.6 2000.7,431.6 2012.3,456.4 2023.8,480.5 2035.4,433.2 2046.9,495.7 2058.5,478.5 2070.0,440.4 2081.6,250.2 2093.1,208.9 2104.6,250.2 2116.2,394.4 2127.7,270.2 2139.3,372.3 2150.8,412.4 2162.4,462.4 2173.9,452.4 2185.5,514.5 2197.0,532.5 2208.6,313.1 2220.1,525.3 2231.7,590.6 2243.2,654.7 2254.8,617.4 2266.3,406.4 2277.9,556.5 2289.4,520.5 2301.0,499.7" stroke="#000" stroke-width="4.17"/>
</g>
<text x="1273" y="54.6" font-size="49.4" text-anchor="middle" textLength="875" lengthAdjust="spacingAndGlyphs">Posterior Predictive Model Components</text>
<text x="394.0" y="1178.8" font-size="42.0" text-anchor="middle" textLength="163" lengthAdjust="spacingAndGlyphs">2018-07</text>
<text x="697.5" y="1178.8" font-size="42.0" text-anchor="middle" textLength="163" lengthAdjust="spacingAndGlyphs">2019-01</text>
<text x="996.1" y="1178.8" font-size="42.0" text-anchor="middle" textLength="163" lengthAdjust="spacingAndGlyphs">2019-07</text>
<text x="1299.7" y="1178.8" font-size="42.0" text-anchor="middle" textLength="163" lengthAdjust="spacingAndGlyphs">2020-01</text>
<text x="1599.9" y="1178.8" font-size="42.0" text-anchor="middle" textLength="163" lengthAdjust="spacingAndGlyphs">2020-07</text>
<text x="1903.4" y="1178.8" font-size="42.0" text-anchor="middle" textLength="163" lengthAdjust="spacingAndGlyphs">2021-01</text>
<text x="2202.0" y="1178.8" font-size="42.0" text-anchor="middle" textLength="163" lengthAdjust="spacingAndGlyphs">2021-07</text>
<text x="131.5" y="1005.4" font-size="42.0" text-anchor="end" textLength="60" lengthAdjust="spacingAndGlyphs">0.0</text>
<text x="131.5" y="831.0" font-size="42.0" text-anchor="end" textLength="60" lengthAdjust="spacingAndGlyphs">0.2</text>
<text x="131.5" y="656.6" font-size="42.0" text-anchor="end" textLength="60" lengthAdjust="spacingAndGlyphs">0.4</text>
<text x="131.5" y="482.3" font-size="42.0" text-anchor="end" textLength="60" lengthAdjust="spacingAndGlyphs">0.6</text>
<text x="131.5" y="307.9" font-size="42.0" text-anchor="end" textLength="60" lengthAdjust="spacingAndGlyphs">0.8</text>
<text x="131.5" y="133.5" font-size="42.0" text-anchor="end" textLength="60" lengthAdjust="spacingAndGlyphs">1.0</text>
<text x="1272.2" y="1230.8" font-size="42.5" text-anchor="middle" textLength="93" lengthAdjust="spacingAndGlyphs">date</text>
<text transform="translate(49.8,606.3) rotate(-90)" x="0" y="0" font-size="42.5" text-anchor="middle" textLength="171" lengthAdjust="spacingAndGlyphs">y scaled</text>
<rect x="344.2" y="1287.9" width="77.8" height="26.2" fill="#2a2eec" fill-opacity="0.25" stroke="#2a2eec" stroke-opacity="0.25" stroke-width="2.2"/>
<rect x="344.2" y="1349.8" width="77.8" height="26.2" fill="#fa7c17" fill-opacity="0.25" stroke="#fa7c17" stroke-opacity="0.25" stroke-width="2.2"/>
<rect x="1151.3" y="1287.9" width="77.8" height="26.2" fill="#328c06" fill-opacity="0.25" stroke="#328c06" stroke-opacity="0.25" stroke-width="2.2"/>
<rect x="1151.3" y="1349.8" width="77.8" height="26.2" fill="#c10c90" fill-opacity="0.25" stroke="#c10c90" stroke-opacity="0.25" stroke-width="2.2"/>
<line x1="1933" y1="1300.5" x2="2009" y2="1300.5" stroke="#000" stroke-width="4.17" stroke-linecap="round"/>
<text x="453" y="1314.2" font-size="42.0" textLength="623" lengthAdjust="spacingAndGlyphs">94% HDI (channel_contribution)</text>
<text x="453" y="1376.9" font-size="42.0" textLength="604" lengthAdjust="spacingAndGlyphs">94% HDI (control_contribution)</text>
<text x="1259.3" y="1314.2" font-size="42.0" textLength="598" lengthAdjust="spacingAndGlyphs">94% HDI (fourier_contribution)</text>
<text x="1259.3" y="1376.9" font-size="42.0" textLength="391" lengthAdjust="spacingAndGlyphs">94% HDI (intercept)</text>
<text x="2041" y="1314.2" font-size="42.0" textLength="161" lengthAdjust="spacingAndGlyphs">y scaled</text>
</svg></body></html>
